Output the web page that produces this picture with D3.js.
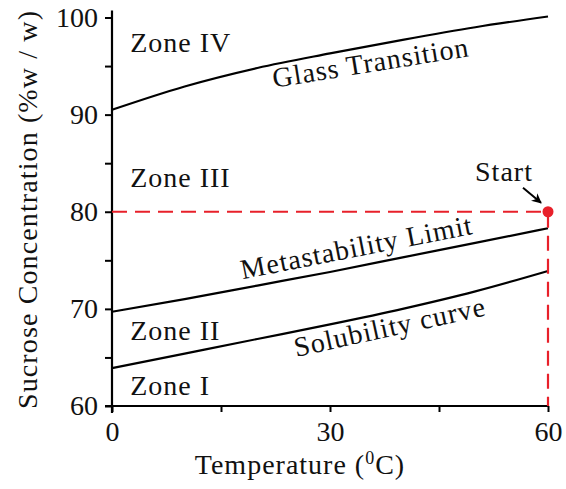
<!DOCTYPE html>
<html>
<head>
<meta charset="utf-8">
<script src="https://cdn.jsdelivr.net/npm/d3@7"></script>
<style>
  body { margin: 0; background: #fff; }
  svg text { font-family: "Liberation Serif", "DejaVu Serif", serif; fill: #111; }
</style>
</head>
<body>
<svg id="chart" width="566" height="489"></svg>
<script>
// sucrose phase diagram: zones split by solubility / metastability / glass curves

const temps = [0, 10, 20, 30, 40, 50, 60];
const solubility = [63.9, 65.4, 66.9, 68.4, 70.0, 71.8, 73.9];
const metastability = [69.7, 71.0, 72.4, 73.8, 75.3, 76.8, 78.3];
const glassTransition = [90.5, 92.9, 94.8, 96.3, 97.7, 99.0, 100.1];

const xTicks = [0, 15, 30, 45, 60];
const yTicks = [60, 65, 70, 75, 80, 85, 90, 95, 100];
const startPoint = { t: 60, c: 80 };

const zones = [
  { label: "Zone IV", t: 2.5, c: 96.45 },
  { label: "Zone III", t: 2.5, c: 82.55 },
  { label: "Zone II", t: 2.5, c: 66.8 },
  { label: "Zone I", t: 2.5, c: 61.13 }
];

const curveLabels = [
  { label: "Glass Transition", t: 35.8, c: 94.4, angle: -9.2 },
  { label: "Metastability Limit", t: 33.9, c: 75.4, angle: -11.1 },
  { label: "Solubility curve", t: 38.5, c: 67.2, angle: -12.3 }
];

const svg = d3.select("#chart");
const x = d3.scaleLinear().domain([0, 60]).range([112, 548]);
const y = d3.scaleLinear().domain([60, 100]).range([406, 17.5]);
const fontSize = 28;
const spacing = 1;

// axes
const yAxis = d3.axisLeft(y)
  .tickValues(yTicks)
  .tickSize(7)
  .tickSizeOuter(0)
  .tickFormat(d => d % 10 === 0 ? d : "");

const xAxis = d3.axisBottom(x)
  .tickValues(xTicks)
  .tickSize(6)
  .tickSizeOuter(0)
  .tickFormat(d => d % 30 === 0 ? d : "");

const gy = svg.append("g").attr("transform", `translate(${x(0)},0)`).call(yAxis);
const gx = svg.append("g").attr("transform", `translate(0,${y(60)})`).call(xAxis);

[gx, gy].forEach(g => {
  g.select(".domain").remove();
  g.selectAll(".tick line").attr("stroke", "#000").attr("stroke-width", 2);
  g.selectAll(".tick text")
    .attr("font-size", fontSize)
    .attr("font-family", "Liberation Serif, serif")
    .attr("fill", "#111");
});
gy.selectAll(".tick text").attr("x", -14);
gx.selectAll(".tick text").attr("y", 15);

// axis lines cross a little past the origin
svg.append("line")
  .attr("x1", x(0)).attr("x2", x(0))
  .attr("y1", y(100) - 7).attr("y2", y(60) + 7)
  .attr("stroke", "#000").attr("stroke-width", 2.2);
svg.append("line")
  .attr("x1", x(0) - 7).attr("x2", x(60))
  .attr("y1", y(60)).attr("y2", y(60))
  .attr("stroke", "#000").attr("stroke-width", 2.2);

// axis titles
svg.append("text")
  .attr("x", 300)
  .attr("y", 474)
  .attr("text-anchor", "middle")
  .attr("font-size", fontSize)
  .attr("letter-spacing", spacing)
  .html('Temperature (<tspan baseline-shift="super" font-size="18">0</tspan>C)');

svg.append("text")
  .attr("transform", "translate(37,210) rotate(-90)")
  .attr("text-anchor", "middle")
  .attr("font-size", fontSize)
  .attr("textLength", 398)
  .attr("lengthAdjust", "spacing")
  .text("Sucrose Concentration (%w / w)");

// boundary curves
const line = d3.line()
  .x((d, i) => x(temps[i]))
  .y(d => y(d))
  .curve(d3.curveMonotoneX);

[solubility, metastability, glassTransition].forEach(series => {
  svg.append("path")
    .attr("d", line(series))
    .attr("fill", "none")
    .attr("stroke", "#000")
    .attr("stroke-width", 2.2);
});

// dashed guide to the start point
const red = "#e8202a";
svg.append("path")
  .attr("d", d3.line()([
    [x(0), y(startPoint.c)],
    [x(startPoint.t), y(startPoint.c)],
    [x(startPoint.t), y(60)]
  ]))
  .attr("fill", "none")
  .attr("stroke", red)
  .attr("stroke-width", 2.2)
  .attr("stroke-dasharray", "15,8");

svg.append("circle")
  .attr("cx", x(startPoint.t))
  .attr("cy", y(startPoint.c))
  .attr("r", 5.5)
  .attr("fill", red);

// arrow + "Start"
svg.append("defs").append("marker")
  .attr("id", "arrow")
  .attr("viewBox", "0 0 10 10")
  .attr("refX", 9).attr("refY", 5)
  .attr("markerWidth", 5).attr("markerHeight", 5)
  .attr("orient", "auto")
  .append("path")
  .attr("d", "M0,0 L10,5 L0,10 L3,5 Z")
  .attr("fill", "#000");

svg.append("line")
  .attr("x1", x(startPoint.t) - 25).attr("y1", y(startPoint.c) - 24)
  .attr("x2", x(startPoint.t) - 7).attr("y2", y(startPoint.c) - 9)
  .attr("stroke", "#000")
  .attr("stroke-width", 2)
  .attr("marker-end", "url(#arrow)");

svg.append("text")
  .attr("x", x(startPoint.t) - 44)
  .attr("y", y(startPoint.c) - 31)
  .attr("text-anchor", "middle")
  .attr("font-size", fontSize)
  .attr("letter-spacing", spacing)
  .text("Start");

// zone labels
svg.selectAll("text.zone")
  .data(zones)
  .join("text")
  .attr("class", "zone")
  .attr("x", d => x(d.t))
  .attr("y", d => y(d.c))
  .attr("font-size", fontSize)
  .attr("letter-spacing", spacing)
  .text(d => d.label);

// labels along the curves
svg.selectAll("text.curve-label")
  .data(curveLabels)
  .join("text")
  .attr("class", "curve-label")
  .attr("text-anchor", "middle")
  .attr("font-size", fontSize)
  .attr("letter-spacing", spacing)
  .attr("transform", d => `translate(${x(d.t)},${y(d.c)}) rotate(${d.angle})`)
  .text(d => d.label);
</script>
</body>
</html>
